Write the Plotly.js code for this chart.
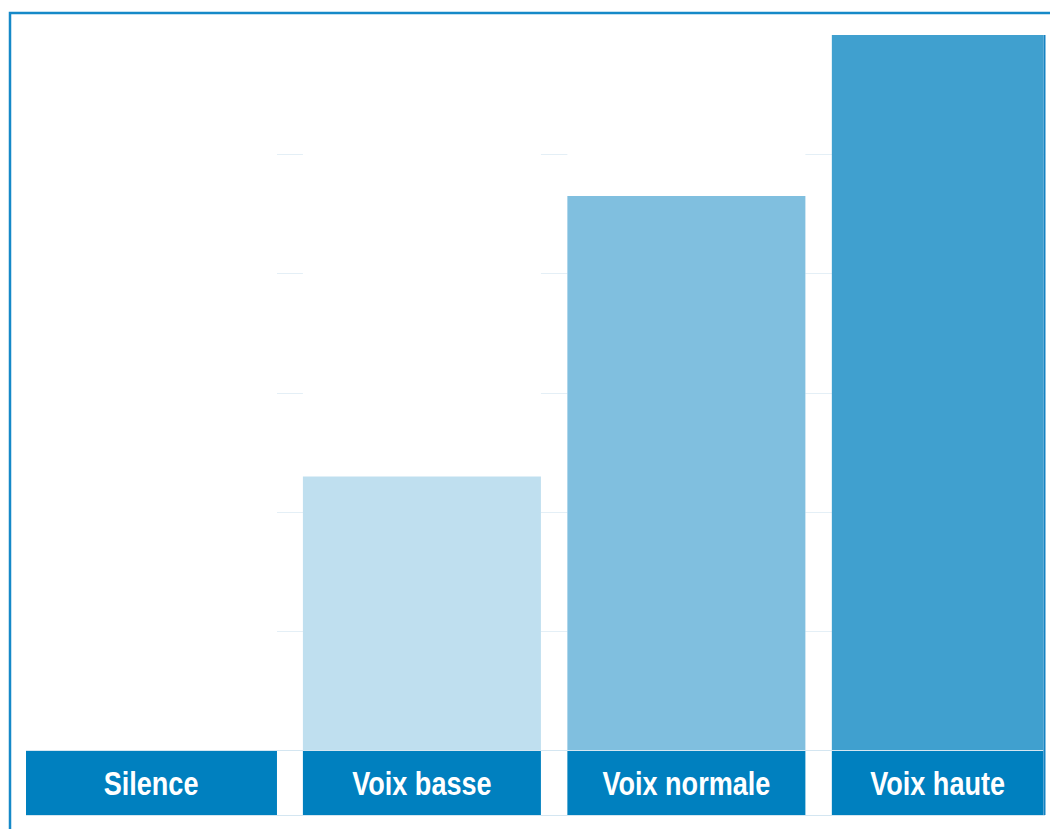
<!DOCTYPE html>
<html>
<head>
<meta charset="utf-8">
<script src="https://cdn.plot.ly/plotly-3.0.1.min.js"></script>
<style>html,body{margin:0;padding:0;background:#fff;}#chart{width:1050px;height:829px;}</style>
</head>
<body>
<div id="chart"></div>
<script>
// ---- data ----
var categories = ["Silence", "Voix basse", "Voix normale", "Voix haute"];
var levels = [0, 23, 46.5, 60];
var maxLevel = 60;
var labelBand = [1, 1, 1, 1];

// ---- styles ----
var barColors = ["#ffffff", "#bfdfef", "#80bfdf", "#40a0cf"];
var labelColor = "#0080bf";
var barWidths = [0.952, 0.9, 0.9, 0.8];
var barOffsets = [-0.5, -0.45, -0.45, -0.45];
var trackValues = categories.map(function(){ return maxLevel; });
var narrow = 0.82; // horizontal condensing of label text (Arial Narrow look)

var traces = [
  { type: "bar", x: categories, y: trackValues, width: barWidths, offset: barOffsets,
    marker: { color: "#ffffff" }, xaxis: "x", yaxis: "y", hoverinfo: "skip", showlegend: false },
  { type: "bar", x: categories, y: levels, width: barWidths, offset: barOffsets,
    marker: { color: barColors }, xaxis: "x", yaxis: "y", showlegend: false },
  { type: "bar", x: categories, y: labelBand, width: barWidths, offset: barOffsets,
    marker: { color: labelColor }, xaxis: "x", yaxis: "y2", showlegend: false,
    text: categories, textposition: "inside", insidetextanchor: "middle", textangle: 0,
    constraintext: "none",
    textfont: { family: "'Liberation Sans', Arial, sans-serif", size: 33, color: "#ffffff", weight: "bold" } }
];

var bandFrac = 64 / 780;
var layout = {
  width: 1050, height: 829,
  margin: { l: 26, r: 5, t: 35, b: 14 },
  paper_bgcolor: "#ffffff", plot_bgcolor: "#ffffff",
  barmode: "overlay",
  xaxis: { type: "category", range: [-0.497, 3.356], anchor: "y2",
    showticklabels: false, ticks: "", showgrid: false, zeroline: false,
    showline: true, mirror: true, linecolor: "#d4e6f1", linewidth: 1, layer: "above traces" },
  yaxis: { domain: [bandFrac, 1], range: [0, maxLevel], dtick: 10, showticklabels: false,
    ticks: "", showgrid: true, gridcolor: "#e4eff6", gridwidth: 1, zeroline: false, showline: false },
  yaxis2: { domain: [0, bandFrac], range: [0, 1], showticklabels: false, ticks: "",
    showgrid: false, zeroline: false, showline: false },
  shapes: [
    { type: "rect", xref: "paper", yref: "paper", x0: -0.0157, x1: 1.01, y0: -0.03, y1: 1.0282,
      line: { color: "#1589c8", width: 2.5 }, fillcolor: "rgba(0,0,0,0)" },
    { type: "line", xref: "paper", yref: "paper", x0: 0.9995, x1: 0.9995, y0: 0, y1: 1,
      line: { color: "#1482c2", width: 2 } }
  ],
  showlegend: false
};

Plotly.newPlot("chart", traces, layout, { displayModeBar: false, staticPlot: true }).then(function(gd){
  var texts = gd.querySelectorAll("text.bartext");
  texts.forEach(function(t){
    var bb = t.getBBox();
    var cx = bb.x + bb.width / 2;
    var tr = t.getAttribute("transform") || "";
    t.setAttribute("transform", tr + " translate(" + cx + ",0) scale(" + narrow + ",1) translate(" + (-cx) + ",0)");
  });
});
</script>
</body>
</html>
